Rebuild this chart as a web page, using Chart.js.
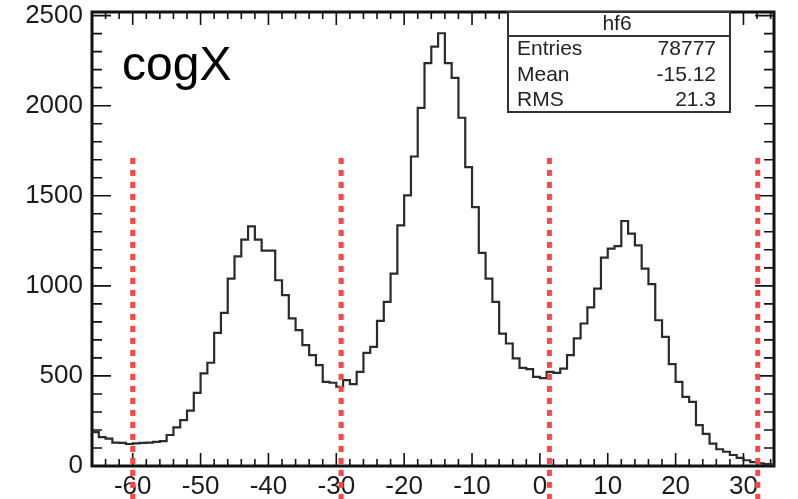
<!DOCTYPE html>
<html>
<head>
<meta charset="utf-8">
<script src="https://cdn.jsdelivr.net/npm/chart.js@4/dist/chart.umd.min.js"></script>
<style>
  body { margin: 0; background: #fff; }
  #wrap { width: 798px; height: 499px; }
</style>
</head>
<body>
<div id="wrap"><canvas id="myChart" width="798" height="499"></canvas></div>
<script>
// cogX histogram (hf6), 1 unit bins starting at -66

const firstEdge = -66;
const lastEdge = 34.5;

const counts = [
  188, 160, 152, 130, 128, 122, 126, 128, 130, 134,   // -66 .. -57
  138, 172, 214, 255, 307, 406, 514, 573, 739, 850,   // -56 .. -47
  1040, 1164, 1257, 1330, 1257, 1195, 1195, 1031, 948, 819, // -46 .. -37
  754, 671, 615, 560, 467, 462, 440, 477, 455, 523,   // -36 .. -27
  628, 661, 805, 911, 1068, 1336, 1502, 1718, 1988, 2236, // -26 .. -17
  2328, 2402, 2236, 2154, 1933, 1659, 1437, 1183, 1040, 911, // -16 .. -7
  735, 680, 597, 545, 538, 495, 488, 523, 517, 541,   // -6 .. 3
  615, 708, 791, 880, 985, 1157, 1207, 1220, 1360, 1290, // 4 .. 13
  1225, 1096, 1009, 809, 717, 565, 467, 384, 356, 227, // 14 .. 23
  178, 124, 93, 79, 61, 45, 32, 22, 15, 10,           // 24 .. 33
  8                                                   // 34
];

const xTickLabels = [-60, -50, -40, -30, -20, -10, 0, 10, 20, 30];
const yTickLabels = [0, 500, 1000, 1500, 2000, 2500];

// module boundaries (red dotted)
const boundaries = [-60, -29.3, 1.4, 32.1];
const boundaryTop = 1710;

const statTitle = "hf6";
const statNames = ["Entries", "Mean", "RMS"];
const statValues = ["78777", "-15.12", "21.3"];

// step points: low edge of every bin, then the closing edge
const histPoints = counts.map((c, i) => ({ x: firstEdge + i, y: c }));
histPoints.push({ x: lastEdge, y: counts[counts.length - 1] });

const lineSets = boundaries.map((b) => ({
  data: [{ x: b, y: boundaryTop }, { x: b, y: -200 }],
  borderColor: "#ff4545",
  borderWidth: 5,
  borderDash: [6, 6],
  borderCapStyle: "butt",
  pointRadius: 0,
  clip: false,
  order: 0,
}));

const FONT = "'Liberation Sans', Arial, sans-serif";

// frame + inner ticks on all four sides (ROOT style)
const framePlugin = {
  id: "frame",
  beforeDatasetsDraw(chart) {
    const { ctx, chartArea: a, scales } = chart;
    const xs = scales.x, ys = scales.y;
    ctx.save();
    ctx.strokeStyle = "#111";
    ctx.lineWidth = 1.6;
    ctx.beginPath();
    for (let v = -66; v <= 34; v += 2) {
      const px = xs.getPixelForValue(v);
      const len = v % 10 === 0 ? 13 : 7;
      ctx.moveTo(px, a.bottom); ctx.lineTo(px, a.bottom - len);
      ctx.moveTo(px, a.top); ctx.lineTo(px, a.top + len);
    }
    for (let v = 0; v <= 2500; v += 100) {
      const py = ys.getPixelForValue(v);
      const len = v % 500 === 0 ? 19 : 10;
      ctx.moveTo(a.left, py); ctx.lineTo(a.left + len, py);
      ctx.moveTo(a.right, py); ctx.lineTo(a.right - len, py);
    }
    ctx.stroke();
    ctx.lineWidth = 3;
    ctx.strokeRect(a.left, a.top, a.right - a.left, a.bottom - a.top);
    ctx.restore();
  },
  afterDraw(chart) {
    const { ctx, chartArea: a } = chart;
    ctx.save();
    // name of the variable
    ctx.fillStyle = "#000";
    ctx.font = "48px " + FONT;
    ctx.textBaseline = "alphabetic";
    ctx.textAlign = "left";
    ctx.fillText("cogX", 122, 80);

    // stats box
    const bx = 508, bw = 222, by = a.top, bh = 100;
    ctx.fillStyle = "#fff";
    ctx.fillRect(bx, by, bw, bh);
    ctx.strokeStyle = "#333";
    ctx.lineWidth = 2;
    ctx.strokeRect(bx, by, bw, bh);
    ctx.beginPath();
    ctx.moveTo(bx, 36); ctx.lineTo(bx + bw, 36);
    ctx.stroke();
    ctx.fillStyle = "#222";
    ctx.font = "21px " + FONT;
    ctx.textBaseline = "middle";
    ctx.textAlign = "center";
    ctx.fillText(statTitle, 617, 24);
    const rowY = [49, 75, 100];
    statNames.forEach((n, i) => {
      ctx.textAlign = "left";
      ctx.fillText(n, 517, rowY[i]);
      ctx.textAlign = "right";
      ctx.fillText(statValues[i], 716, rowY[i]);
    });
    ctx.restore();
  },
};

new Chart("myChart", {
  type: "line",
  data: {
    datasets: [
      {
        data: histPoints,
        stepped: "before",
        borderColor: "#2a2a2a",
        borderWidth: 2.2,
        pointRadius: 0,
        fill: false,
        order: 1,
      },
      ...lineSets,
    ],
  },
  options: {
    responsive: false,
    devicePixelRatio: 1,
    animation: false,
    events: [],
    layout: { padding: { top: 12, right: 24, left: 0, bottom: 0 } },
    plugins: { legend: { display: false }, tooltip: { enabled: false } },
    scales: {
      x: {
        type: "linear",
        min: firstEdge,
        max: lastEdge,
        grid: { display: false, drawTicks: false },
        border: { display: false },
        afterBuildTicks: (s) => { s.ticks = xTickLabels.map((v) => ({ value: v })); },
        afterFit: (s) => {
          s.height = 33;
          s.paddingLeft = 0;
          s.paddingRight = 0;
        },
        ticks: {
          padding: 5,
          color: "#1a1a1a",
          font: { family: FONT, size: 26 },
          maxRotation: 0,
          autoSkip: false,
          callback: (v) => String(v),
        },
      },
      y: {
        type: "linear",
        min: 0,
        max: 2520,
        grid: { display: false, drawTicks: false },
        border: { display: false },
        afterBuildTicks: (s) => { s.ticks = yTickLabels.map((v) => ({ value: v })); },
        afterFit: (s) => {
          s.width = 92;
          s.paddingTop = 0;
          s.paddingBottom = 0;
        },
        ticks: {
          padding: 9,
          color: "#1a1a1a",
          font: { family: FONT, size: 26 },
          autoSkip: false,
          callback: (v) => String(v),
        },
      },
    },
  },
  plugins: [framePlugin],
});
</script>
</body>
</html>
